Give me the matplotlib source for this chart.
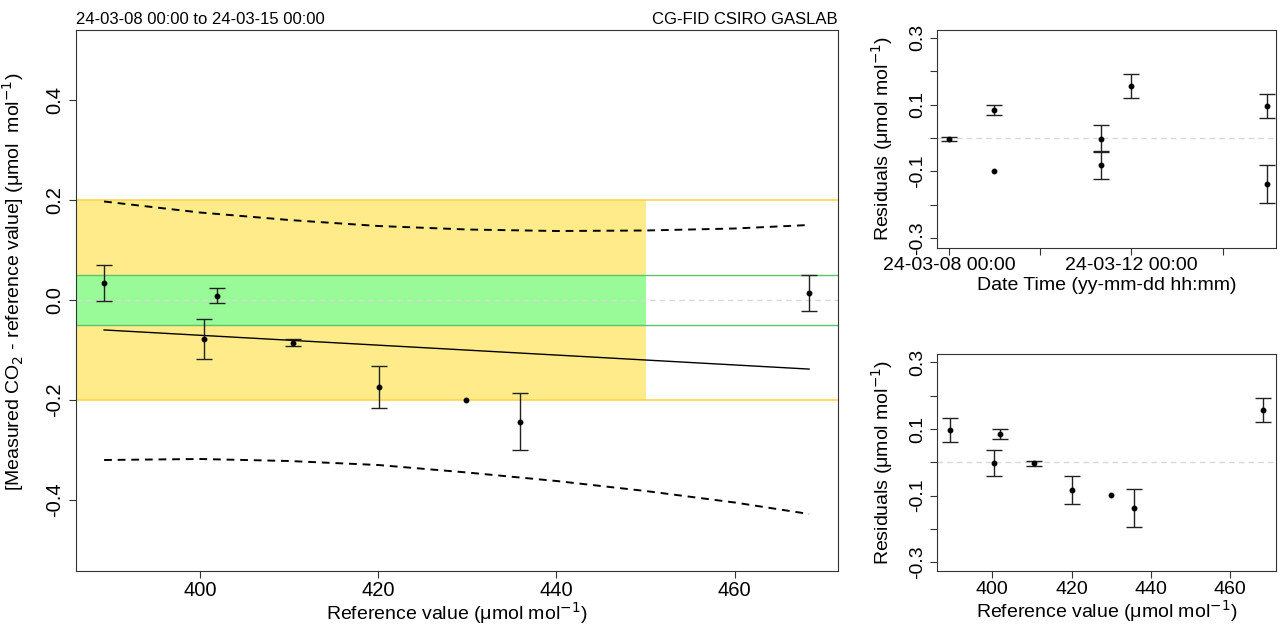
import datetime as dt

from matplotlib import pyplot as plt
import numpy as np

plt.rcParams['font.family'] = ['Liberation Sans', 'DejaVu Sans']
plt.rcParams['axes.unicode_minus'] = False

# comparison data
ref_value = [389.25, 400.5, 401.9, 410.5, 420.1, 429.85, 435.9, 468.35]
diff_value = [0.035, -0.077, 0.009, -0.085, -0.173, -0.200, -0.243, 0.015]
diff_unc = [0.036, 0.040, 0.015, 0.007, 0.042, 0.0, 0.057, 0.036]
residual = [0.097, -0.002, 0.085, -0.003, -0.082, -0.098, -0.137, 0.156]
meas_time = ["2024-03-14 23:15", "2024-03-11 08:00", "2024-03-08 23:45",
             "2024-03-08 00:00", "2024-03-11 08:00", "2024-03-08 23:45",
             "2024-03-14 23:15", "2024-03-11 23:45"]

# confidence curves around the fit
band_x = [389.25, 400, 410, 420, 430, 440, 450, 460, 468.35]
band_upper = [0.197, 0.175, 0.160, 0.148, 0.141, 0.138, 0.139, 0.143, 0.150]
band_lower = [-0.320, -0.318, -0.322, -0.330, -0.345, -0.362, -0.382, -0.405, -0.428]

title_left = "24-03-08 00:00 to 24-03-15 00:00"
title_right = "CG-FID CSIRO GASLAB"
unit = r"($\mathregular{\mu}$mol mol$^{-1}$)"

x = np.array(ref_value)
y = np.array(diff_value)
unc = np.array(diff_unc)
res = np.array(residual)
dates = np.array([dt.datetime.strptime(t, "%Y-%m-%d %H:%M") for t in meas_time])
has_bar = unc > 0


def draw_points(a, xv, yv):
    a.plot(xv, yv, "o", ms=3.2, color="black", zorder=4)
    a.errorbar(xv[has_bar], yv[has_bar], yerr=unc[has_bar], fmt="none",
               ecolor="#222222", elinewidth=1, capsize=6, capthick=1, zorder=3)


fig = plt.figure(figsize=(12.84, 6.25), dpi=100)
ax = fig.add_axes([0.0592, 0.0864, 0.5935, 0.8656])
ax_t = fig.add_axes([0.730, 0.6037, 0.2636, 0.3483])
ax_r = fig.add_axes([0.730, 0.0864, 0.2636, 0.3467])

xlim = (386.1, 471.6)

# main plot
ax.set_xlim(*xlim)
ax.set_ylim(-0.542, 0.54)
ax.fill_between([xlim[0], 450], -0.2, 0.2, color="#FFEB8A", lw=0, zorder=0)
ax.fill_between([xlim[0], 450], -0.05, 0.05, color="#98FB98", lw=0, zorder=0)
for lvl in (-0.2, 0.2):
    ax.axhline(lvl, color="#FFD54F", lw=1.2, zorder=1)
for lvl in (-0.05, 0.05):
    ax.axhline(lvl, color="#5DC26A", lw=1.0, zorder=1)
ax.axhline(0, color="#D8D8D8", lw=1, ls=(0, (4, 3)), zorder=1)

coef = np.polyfit(x, y, 1)
poly1d_fn = np.poly1d(coef)
xs = np.array([x.min(), x.max()])
ax.plot(xs, poly1d_fn(xs), color="black", lw=1, zorder=2)
ax.plot(band_x, band_upper, "--", color="black", lw=1.4, dashes=(4, 3), zorder=2)
ax.plot(band_x, band_lower, "--", color="black", lw=1.4, dashes=(4, 3), zorder=2)
draw_points(ax, x, y)

ax.set_xticks([400, 420, 440, 460])
ax.set_yticks([-0.4, -0.2, 0.0, 0.2, 0.4])
ax.set_yticklabels(["%.1f" % v for v in [-0.4, -0.2, 0.0, 0.2, 0.4]],
                   rotation=90, va="center")
ax.tick_params(labelsize=14.5, length=5, color="#333333")
ax.tick_params(axis="x", pad=2)
ax.set_xlabel("Reference value " + unit, fontsize=14, labelpad=0)
ax.set_ylabel(r"[Measured CO$_2$ - reference value] ($\mathregular{\mu}$mol  mol$^{-1}$)",
              fontsize=14)
ax.yaxis.set_label_coords(-0.066, 0.535)
ax.set_title(title_left, loc="left", fontsize=12, pad=4)
ax.set_title(title_right, loc="right", fontsize=12, pad=4)

res_ticks = [-0.3, -0.2, -0.1, 0.0, 0.1, 0.2, 0.3]
res_labels = ["-0.3", "", "-0.1", "", "0.1", "", "0.3"]

# residuals vs time
ax_t.axhline(0, color="#D8D8D8", lw=1, ls=(0, (4, 3)), zorder=1)
draw_points(ax_t, dates, res)
t0 = dt.datetime(2024, 3, 8)
ax_t.set_xlim(t0 - dt.timedelta(hours=6.3), t0 + dt.timedelta(days=7.17))
ax_t.set_ylim(-0.328, 0.323)
ticks_t = [t0 + dt.timedelta(days=d) for d in (0, 2, 4, 6)]
ax_t.set_xticks(ticks_t)
ax_t.set_xticklabels([t.strftime("%y-%m-%d %H:%M") if i % 2 == 0 else ""
                      for i, t in enumerate(ticks_t)])
ax_t.set_xlabel("Date Time (yy-mm-dd hh:mm)", fontsize=14, labelpad=2)

# residuals vs reference value
ax_r.axhline(0, color="#D8D8D8", lw=1, ls=(0, (4, 3)), zorder=1)
draw_points(ax_r, x, res)
ax_r.set_xlim(*xlim)
ax_r.set_ylim(-0.326, 0.324)
ax_r.set_xticks([400, 420, 440, 460])
ax_r.set_xlabel("Reference value " + unit, fontsize=14, labelpad=0)

for a in (ax_t, ax_r):
    a.set_yticks(res_ticks)
    a.set_yticklabels(res_labels, rotation=90, va="center")
    a.tick_params(labelsize=14, length=5, color="#333333", pad=3)
    a.tick_params(axis="x", pad=2)
    a.set_ylabel("Residuals " + unit, fontsize=14, labelpad=10)

for a in (ax, ax_t, ax_r):
    for s in a.spines.values():
        s.set_color("#333333")

fig.savefig("out.png", dpi=100)
